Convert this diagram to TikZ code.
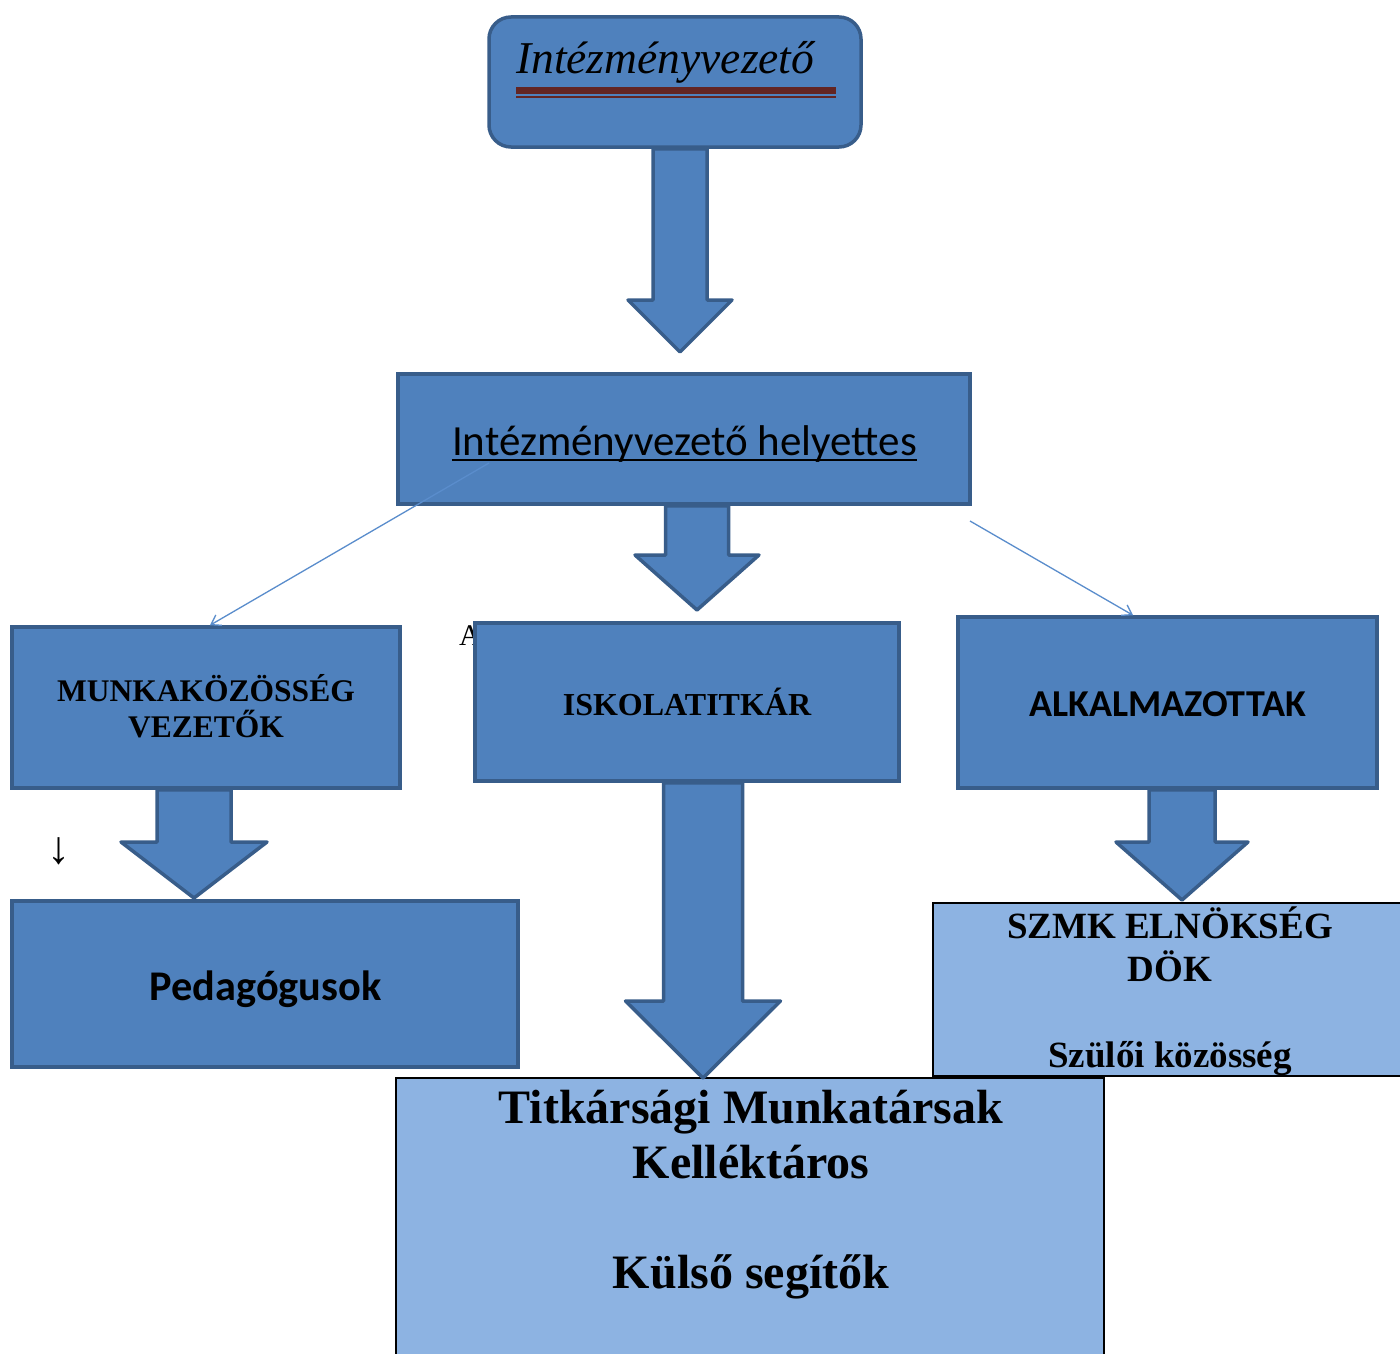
\documentclass[tikz,border=0pt]{standalone}
\usepackage{fontspec}
\setmainfont{Liberation Serif}
\newfontfamily\calfont{Carlito}
\usetikzlibrary{arrows.meta,calc}
\definecolor{bfill}{HTML}{4F81BD}
\definecolor{bline}{HTML}{385D8A}
\definecolor{lfill}{HTML}{8DB3E2}
\definecolor{dred}{HTML}{632523}
\definecolor{tline}{HTML}{5A8DCC}
\tikzset{
  bluebox/.style={draw=bline, fill=bfill, line width=3.5pt, inner sep=0pt},
  lightbox/.style={draw=black, fill=lfill, line width=1.3pt, inner sep=0pt},
  barrow/.style={draw=bline, fill=bfill, line width=3.5pt, line join=round},
  thinarrow/.style={draw=tline, line width=1.3pt, -{Straight Barb[length=9pt,width=12pt]}},
  txt/.style={inner sep=0pt, text=black, align=center}
}
\newcommand{\blockarr}[6]{%
  \draw[barrow] ({#1-#3},0 |- #2.south) -- ({#1-#3},#5) -- ({#1-#4},#5) -- (#1,#6)
     -- ({#1+#4},#5) -- ({#1+#3},#5) -- ({#1+#3},0 |- #2.south) -- cycle;}
\begin{document}
\begin{tikzpicture}[x=1pt,y=-1pt]
\useasboundingbox (0,0) rectangle (1400,1354);
\fill[white] (0,0) rectangle (1400,1354);

% top box
\node[bluebox, rounded corners=22pt, minimum width=372pt, minimum height=130pt] (top) at (675,82) {};
\node[txt, anchor=base west, font=\fontsize{45.5}{50}\selectfont\itshape] (toptxt) at (516,74) {Intézményvezető};
\coordinate (ul1a) at (516,90.5);
\coordinate (ul1b) at (836,90.5);
\coordinate (ul2a) at (516,97);
\coordinate (ul2b) at (836,97);
\draw[dred, line width=7pt] (ul1a) -- (ul1b);
\draw[dred, line width=1.5pt] (ul2a) -- (ul2b);

% deputy box
\node[bluebox, minimum width=572pt, minimum height=130pt] (dep) at (684,439) {};
\node[txt, anchor=base, font=\calfont\fontsize{43}{48}\selectfont] (deptxt) at (684.5,455) {Intézményvezető helyettes};
\draw[black, line width=1.8pt] ([yshift=-5pt]deptxt.base west) -- ([yshift=-5pt]deptxt.base east);

% arrows from top and deputy
\blockarr{680}{top}{27}{52}{300}{352}
\blockarr{697}{dep}{31.5}{62}{555}{610}

% middle row
\coordinate (lstart) at (489,463);
\coordinate (rstart) at (970,521);
\node[bluebox, minimum width=388pt, minimum height=161pt] (munk) at (206,707.5) {};
\node[txt, anchor=base, font=\bfseries\fontsize{31.5}{36}\selectfont] (munktxt) at (206,737) {MUNKAKÖZÖSSÉG\\VEZETŐK};
\node[bluebox, minimum width=419pt, minimum height=171pt] (alk) at (1167.5,702.5) {};
\node[txt, anchor=base, font=\calfont\bfseries\fontsize{38}{42}\selectfont] (alktxt) at (1167.5,716) {ALKALMAZOTTAK};
\draw[thinarrow] (lstart) -- (munk.north -| 210,0);
\draw[thinarrow] (rstart) -- (alk.north -| 1133,0);

% stray A
\node[txt, anchor=base west, font=\fontsize{30}{34}\selectfont] (stray) at (459,645) {A};
\node[bluebox, minimum width=424pt, minimum height=158pt] (isk) at (687,702) {};
\node[txt, anchor=base, font=\bfseries\fontsize{32}{36}\selectfont] (isktxt) at (687,715) {ISKOLATITKÁR};

% lower boxes
\node[bluebox, minimum width=506pt, minimum height=166pt] (ped) at (265,984) {};
\node[txt, anchor=base, font=\calfont\bfseries\fontsize{42.3}{46}\selectfont] (pedtxt) at (265.5,1000) {Pedagógusok};
\node[lightbox, minimum width=469pt, minimum height=173pt] (szmk) at (1167.5,989.5) {};
\node[lightbox, minimum width=708pt, minimum height=282pt] (tit) at (750,1219) {};

% arrows to lower level
\blockarr{194}{munk}{37}{73}{842}{898}
\blockarr{703}{isk}{39.5}{77.5}{1001}{1078}
\blockarr{1182}{alk}{33}{66}{842}{900}

% texts in light boxes
\node[txt, anchor=base, font=\bfseries\fontsize{37}{43}\selectfont] (szmktxt) at (1170,1067) {SZMK ELNÖKSÉG\\DÖK\\[43pt]Szülői közösség};
\node[txt, anchor=base, font=\bfseries\fontsize{48}{55}\selectfont] (tittxt) at (751,1288) {Titkársági Munkatársak\\Kelléktáros\\[55pt]Külső segítők};

% small arrow glyph
\node[txt, font=\fontsize{46}{50}\selectfont] (smallarr) at (59,851) {↓};
\end{tikzpicture}
\end{document}
